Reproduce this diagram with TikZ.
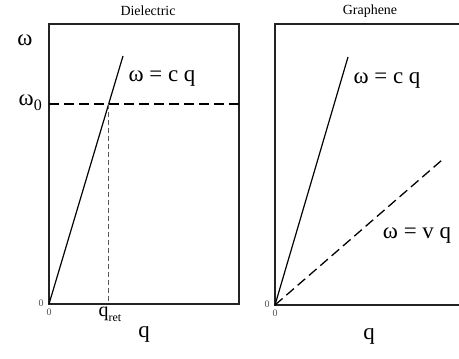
\documentclass[tikz,border=0pt]{standalone}
\usepackage{fontspec}
\setmainfont{Liberation Serif}
\usepackage{xcolor}
\usetikzlibrary{calc,positioning}
\definecolor{axisdark}{RGB}{35,35,35}
\definecolor{guidegray}{RGB}{90,90,90}
\definecolor{zerogray}{RGB}{80,80,80}

\begin{document}
\begin{tikzpicture}[x=1bp,y=-1bp,
    framebox/.style={axisdark, line width=1.3pt},
    lightline/.style={black, line width=1.2pt},
    lightcut/.style={black, line width=1.3pt, dash pattern=on 10bp off 5bp},
    retguide/.style={guidegray, line width=0.6pt, dash pattern=on 5bp off 3bp},
    paneltitle/.style={font=\fontsize{14}{14}\selectfont, inner sep=0pt},
    bigmath/.style={font=\fontsize{23}{23}\selectfont, inner sep=0pt},
    zerotick/.style={text=zerogray, font=\fontsize{10}{10}\selectfont, inner sep=0pt}]

    \useasboundingbox (0,0) rectangle (459,358);

    % dielectric panel
    \coordinate (oL) at (49,304);
    \coordinate (cL) at (123,56);
    \coordinate (wL) at (49,104);
    \coordinate (wR) at (239,104);
    \coordinate (xL) at (intersection of oL--cL and wL--wR);
    \coordinate (xB) at (xL |- oL);
    \draw[framebox] (49,24) rectangle (239,304);
    \draw[lightline] (oL) -- (cL);
    \draw[lightcut] (wL) -- (wR);
    \draw[retguide] (xL) -- (xB);

    \node[paneltitle] (titleL) at (148,11) {Dielectric};
    \node[bigmath] (omegaL) at (25,40) {ω};
    \node[bigmath, anchor=east] (omegaZero) at (42,103) {ω\raisebox{-0.45ex}{\fontsize{16}{16}\selectfont 0}};
    \node[bigmath] (lightL) at (162,78) {ω = c q};
    \node[zerotick] (zeroLy) at (41,303) {0};
    \node[zerotick] (zeroLx) at (49,312) {0};
    \node[font=\fontsize{20}{20}\selectfont, inner sep=0pt] (qret) at (110,314) {q\raisebox{-0.5ex}{\fontsize{12}{12}\selectfont ret}};
    \node[bigmath] (qL) at (144,334) {q};

    % graphene panel
    \coordinate (oR) at (275,305);
    \coordinate (cR) at (348,57);
    \coordinate (vR) at (442,160);
    \draw[framebox] (459,24) -- (275,24) -- (275,305) -- (459,305);
    \draw[lightline] (oR) -- (cR);
    \draw[lightcut] (oR) -- (vR);

    \node[paneltitle] (titleR) at (370,11) {Graphene};
    \node[bigmath] (lightR) at (387,80) {ω = c q};
    \node[bigmath] (plasmonR) at (417,235) {ω = v q};
    \node[zerotick] (zeroRy) at (267,304) {0};
    \node[zerotick] (zeroRx) at (275,313) {0};
    \node[bigmath] (qR) at (369,336) {q};

\end{tikzpicture}
\end{document}
